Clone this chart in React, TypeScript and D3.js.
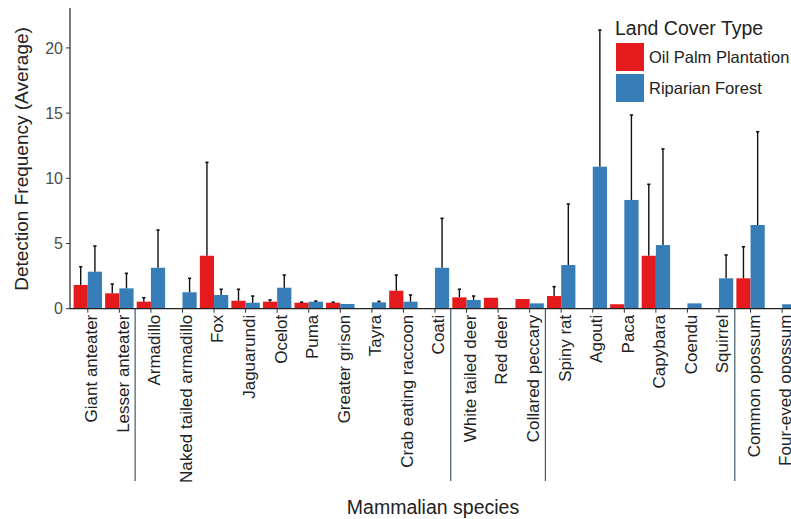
import { useEffect, useRef } from 'react'
import * as d3 from 'd3'

const species = [
  'Giant anteater', 'Lesser anteater', 'Armadillo', 'Naked tailed armadillo', 'Fox',
  'Jaguarundi', 'Ocelot', 'Puma', 'Greater grison', 'Tayra', 'Crab eating raccoon',
  'Coati', 'White tailed deer', 'Red deer', 'Collared peccary', 'Spiny rat', 'Agouti',
  'Paca', 'Capybara', 'Coendu', 'Squirrel', 'Common opossum', 'Four-eyed opossum',
]

// mean detection frequency
const oilPalm = [1.82, 1.18, 0.54, 0, 4.06, 0.61, 0.54, 0.46, 0.46, 0, 1.38, 0, 0.87, 0.84, 0.74, 0.97, 0, 0.34, 4.06, 0, 0, 2.33, 0]
const riparian = [2.84, 1.56, 3.14, 1.26, 1.05, 0.46, 1.61, 0.54, 0.36, 0.49, 0.54, 3.14, 0.67, 0, 0.41, 3.35, 10.89, 8.34, 4.88, 0.41, 2.33, 6.42, 0.34]
// upper end of error bars (mean + sd)
const oilPalmUpper = [3.22, 1.89, 0.84, 0, 11.22, 1.49, 0.67, 0.5, 0.5, 0, 2.58, 0, 1.49, 0.84, 0.74, 1.69, 0, 0.34, 9.54, 0, 0, 4.75, 0]
const riparianUpper = [4.81, 2.71, 6.03, 2.33, 1.49, 0.97, 2.58, 0.59, 0.36, 0.56, 1.05, 6.93, 0.97, 0, 0.41, 8.03, 21.37, 14.85, 12.25, 0.41, 4.12, 13.57, 0.34]

const yTicks = [0, 5, 10, 15, 20]
// groups separated by vertical lines (index of first species after the line)
const groupBreaks = [2, 12, 15, 21]

const seriesNames = ['Oil Palm Plantation', 'Riparian Forest']
const seriesColors = ['#e41a1c', '#377eb8']

export default function App() {
  const svgRef = useRef<SVGSVGElement>(null)

  useEffect(() => {
    if (!svgRef.current) return
    const svg = d3.select(svgRef.current)
    svg.selectAll('*').remove()

    const W = 791
    const H = 519
    const left = 70
    const top = 8
    const bottom = 308.7
    const font = 'Arial, "Liberation Sans", sans-serif'

    const step = 31.56
    const x0 = 87.8 - step / 2
    const x = d3.scaleBand<string>()
      .domain(species)
      .range([x0, x0 + step * species.length])
      .paddingInner(0)
      .paddingOuter(0)

    const y = d3.scaleLinear().domain([0, (bottom - top) / 13.04]).range([bottom, top])

    const inner = d3.scaleBand<number>().domain([0, 1]).range([0, step * 0.9])
    const offset = (step - step * 0.9) / 2

    const g = svg.append('g')

    // bars
    const values = [oilPalm, riparian]
    const uppers = [oilPalmUpper, riparianUpper]
    values.forEach((vals, s) => {
      g.selectAll(`.bar-${s}`)
        .data(species)
        .enter().append('rect')
        .attr('x', (d) => x(d)! + offset + inner(s)!)
        .attr('width', inner.bandwidth())
        .attr('y', (d, i) => y(vals[i]))
        .attr('height', (d, i) => y(0) - y(vals[i]))
        .attr('fill', seriesColors[s])
    })

    // error bars
    values.forEach((vals, s) => {
      species.forEach((sp, i) => {
        const v = vals[i]
        const u = uppers[s][i]
        if (v <= 0 || u <= v + 0.02) return
        const cx = x(sp)! + offset + inner(s)! + inner.bandwidth() / 2
        g.append('line')
          .attr('x1', cx).attr('x2', cx)
          .attr('y1', y(v)).attr('y2', y(u))
          .attr('stroke', '#111').attr('stroke-width', 1.4)
        g.append('line')
          .attr('x1', cx - 1.6).attr('x2', cx + 1.6)
          .attr('y1', y(u)).attr('y2', y(u))
          .attr('stroke', '#111').attr('stroke-width', 1.6)
      })
    })

    // separators
    groupBreaks.forEach((b) => {
      const sx = x(species[b])!
      g.append('line')
        .attr('x1', sx).attr('x2', sx)
        .attr('y1', bottom).attr('y2', 481)
        .attr('stroke', '#3f5b70').attr('stroke-width', 1.2)
    })

    // axes
    g.append('line')
      .attr('x1', left).attr('x2', W)
      .attr('y1', bottom).attr('y2', bottom)
      .attr('stroke', '#222').attr('stroke-width', 1.2)
    g.append('line')
      .attr('x1', left).attr('x2', left)
      .attr('y1', top).attr('y2', bottom)
      .attr('stroke', '#222').attr('stroke-width', 1.2)

    yTicks.forEach((t) => {
      g.append('line')
        .attr('x1', left - 4).attr('x2', left)
        .attr('y1', y(t)).attr('y2', y(t))
        .attr('stroke', '#333').attr('stroke-width', 1)
      g.append('text')
        .attr('x', left - 7).attr('y', y(t))
        .attr('dy', '0.36em')
        .attr('text-anchor', 'end')
        .style('font-family', font).style('font-size', '16px')
        .attr('fill', '#4d4d4d')
        .text(t)
    })

    species.forEach((sp) => {
      const cx = x(sp)! + x.bandwidth() / 2
      g.append('line')
        .attr('x1', cx).attr('x2', cx)
        .attr('y1', bottom).attr('y2', bottom + 4)
        .attr('stroke', '#333').attr('stroke-width', 1)
      g.append('text')
        .attr('transform', `translate(${cx},${bottom + 6}) rotate(-90)`)
        .attr('dy', '0.55em')
        .attr('text-anchor', 'end')
        .style('font-family', font).style('font-size', '17px')
        .attr('fill', '#222')
        .text(sp)
    })

    // axis titles
    g.append('text')
      .attr('transform', `translate(28,159) rotate(-90)`)
      .attr('text-anchor', 'middle')
      .style('font-family', font).style('font-size', '19px')
      .attr('fill', '#222')
      .text('Detection Frequency (Average)')

    g.append('text')
      .attr('x', 433).attr('y', 514)
      .attr('text-anchor', 'middle')
      .style('font-family', font).style('font-size', '19.5px')
      .attr('fill', '#222')
      .text('Mammalian species')

    // legend
    const lg = g.append('g').attr('transform', 'translate(615,0)')
    lg.append('text')
      .attr('x', 0).attr('y', 35)
      .style('font-family', font).style('font-size', '19.5px')
      .attr('fill', '#222')
      .text('Land Cover Type')
    seriesNames.forEach((n, i) => {
      lg.append('rect')
        .attr('x', 1).attr('y', 43 + i * 31)
        .attr('width', 28).attr('height', 28)
        .attr('fill', seriesColors[i])
      lg.append('text')
        .attr('x', 34).attr('y', 57 + i * 31)
        .attr('dy', '0.36em')
        .style('font-family', font).style('font-size', '16.5px')
        .attr('fill', '#222')
        .text(n)
    })

    svg.attr('width', W).attr('height', H)
  }, [])

  return (
    <svg
      ref={svgRef}
      width={791}
      height={519}
      style={{ position: 'absolute', left: 0, top: 0, background: '#fff' }}
    />
  )
}
